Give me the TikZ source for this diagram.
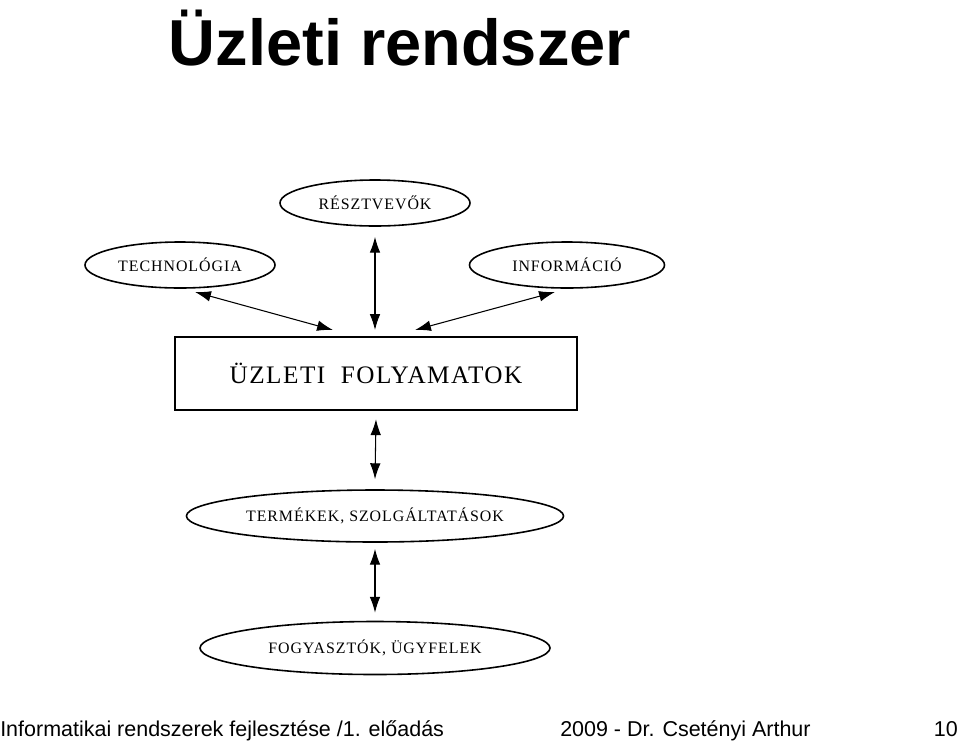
\documentclass[tikz,border=0pt]{standalone}
\usepackage{fontspec}
\setmainfont{Liberation Serif}
\newfontfamily\arialfont{Liberation Sans}
\newfontfamily\spacedfont[LetterSpace=6]{Liberation Serif}
\usetikzlibrary{arrows.meta,positioning,shapes.geometric}

\makeatletter\newdimen\pgfxunit\pgfxunit=0.0265cm\makeatother
\tikzset{
    partner/.style={draw,line width=1.2pt,ellipse,minimum width=190\pgfxunit,minimum height=46\pgfxunit,font=\spacedfont\fontsize{12}{14}\selectfont},
    link/.style={thick,{Latex[length=12pt,width=8pt]}-{Latex[length=12pt,width=8pt]}}
}

\begin{document}
\begin{tikzpicture}[x=0.0265cm,y=-0.0265cm]
\useasboundingbox (0,0) rectangle (960,742);

\node (title) at (400,38) {\arialfont\bfseries\fontsize{49}{52}\selectfont Üzleti rendszer};

\node (resztvevok) [partner] at (375,203) {RÉSZTVEVŐK};
\node (technologia) [partner] at (180,265) {TECHNOLÓGIA};
\node (informacio) [partner,minimum width=195\pgfxunit] at (567,265) {INFORMÁCIÓ};
\node (folyamatok) [draw,line width=1.8pt,minimum width=402\pgfxunit,minimum height=73\pgfxunit,font=\spacedfont\fontsize{19}{22}\selectfont] at (376,373.5) {ÜZLETI\ \ FOLYAMATOK};
\node (termekek) [partner,minimum width=350\pgfxunit,minimum height=52\pgfxunit] at (375,516) {TERMÉKEK, SZOLGÁLTATÁSOK};
\node (fogyasztok) [partner,minimum width=350\pgfxunit,minimum height=53\pgfxunit] at (375,648) {FOGYASZTÓK, ÜGYFELEK};

\coordinate (t1) at (195,292); \coordinate (t2) at (333,330);
\coordinate (i1) at (555,292); \coordinate (i2) at (415,330);
\draw [link] (resztvevok.south) ++(0,10) coordinate (r1) -- (375,330);
\draw [link] (t1) -- (t2);
\draw [link] (i1) -- (i2);
\draw [link] ([yshift=-8\pgfxunit]folyamatok.south) -- ([yshift=10\pgfxunit]termekek.north);
\draw [link] ([yshift=-6\pgfxunit]termekek.south) -- ([yshift=8\pgfxunit]fogyasztok.north);

% footer
\node (eloadas) [anchor=base west,inner sep=0pt,font=\arialfont\fontsize{16.2}{18}\selectfont] at (0,736) {Informatikai rendszerek fejlesztése /1. előadás};
\node (szerzo) [anchor=base west,inner sep=0pt,font=\arialfont\fontsize{16.2}{18}\selectfont] at (560,736) {2009 - Dr. Csetényi Arthur};
\node (oldal) [anchor=base east,inner sep=0pt,font=\arialfont\fontsize{16.2}{18}\selectfont] at (958,736) {10};
\end{tikzpicture}
\end{document}
